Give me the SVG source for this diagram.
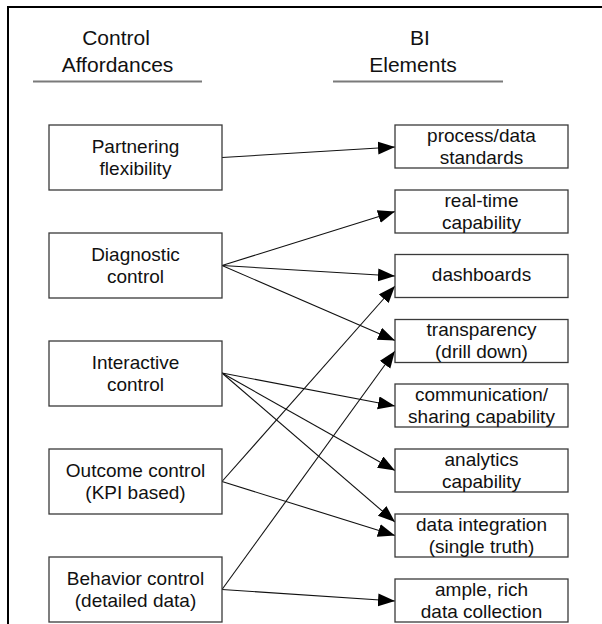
<svg xmlns="http://www.w3.org/2000/svg" width="602" height="624" viewBox="0 0 602 624">
<defs>
<marker id="ah" markerUnits="userSpaceOnUse" markerWidth="18" markerHeight="14" refX="17" refY="6.5" orient="auto">
<path d="M0,0 L17,6.5 L0,13 z" fill="#000"/>
</marker>
<style>
.box{fill:#fff;stroke:#3a3a3a;stroke-width:1.3}
.t{font-family:"Liberation Sans",Arial,sans-serif;font-size:19px;fill:#111;text-anchor:middle}
.h{font-family:"Liberation Sans",Arial,sans-serif;font-size:21px;fill:#111;text-anchor:middle}
.c{stroke:#111;stroke-width:1.1;fill:none;marker-end:url(#ah)}
.ul{stroke:#7a7a7a;stroke-width:2}
</style>
</defs>
<rect width="602" height="624" fill="#fff"/>
<rect x="8" y="7" width="620" height="640" fill="none" stroke="#000" stroke-width="2"/>
<g id="header-left">
<text class="h" x="116" y="45">Control</text>
<text class="h" x="117.5" y="71.5">Affordances</text>
<line class="ul" x1="33" y1="81.5" x2="202" y2="81.5"/>
</g>
<g id="header-right">
<text class="h" x="420" y="45">BI</text>
<text class="h" x="413" y="71.5">Elements</text>
<line class="ul" x1="333" y1="81.5" x2="503" y2="81.5"/>
</g>
<g id="connectors">
<line class="c" x1="222" y1="157.5" x2="395" y2="147"/>
<line class="c" x1="222" y1="265.5" x2="395" y2="211.5"/>
<line class="c" x1="222" y1="265.5" x2="395" y2="276"/>
<line class="c" x1="222" y1="265.5" x2="395" y2="340.5"/>
<line class="c" x1="222" y1="373" x2="395" y2="406"/>
<line class="c" x1="222" y1="373" x2="395" y2="470.5"/>
<line class="c" x1="222" y1="373" x2="395" y2="522"/>
<line class="c" x1="222" y1="481.5" x2="395" y2="286"/>
<line class="c" x1="222" y1="481.5" x2="395" y2="535.5"/>
<line class="c" x1="222" y1="589.5" x2="395" y2="351"/>
<line class="c" x1="222" y1="589.5" x2="395" y2="601"/>
</g>
<g id="partnering">
<rect class="box" x="49" y="125" width="173" height="65"/>
<text class="t" x="135.5" y="152.5">Partnering</text>
<text class="t" x="135.5" y="174.5">flexibility</text>
</g>
<g id="diagnostic">
<rect class="box" x="49" y="233" width="173" height="65"/>
<text class="t" x="135.5" y="260.5">Diagnostic</text>
<text class="t" x="135.5" y="282.5">control</text>
</g>
<g id="interactive">
<rect class="box" x="49" y="341" width="173" height="65"/>
<text class="t" x="135.5" y="368.5">Interactive</text>
<text class="t" x="135.5" y="390.5">control</text>
</g>
<g id="outcome">
<rect class="box" x="49" y="449" width="173" height="65"/>
<text class="t" x="135.5" y="476.5">Outcome control</text>
<text class="t" x="135.5" y="498.5">(KPI based)</text>
</g>
<g id="behavior">
<rect class="box" x="49" y="557" width="173" height="65"/>
<text class="t" x="135.5" y="584.5">Behavior control</text>
<text class="t" x="135.5" y="606.5">(detailed data)</text>
</g>
<g id="process">
<rect class="box" x="395" y="125" width="173" height="43"/>
<text class="t" x="481.5" y="141.5">process/data</text>
<text class="t" x="481.5" y="163.5">standards</text>
</g>
<g id="realtime">
<rect class="box" x="395" y="190" width="173" height="43"/>
<text class="t" x="481.5" y="206.5">real-time</text>
<text class="t" x="481.5" y="228.5">capability</text>
</g>
<g id="dashboards">
<rect class="box" x="395" y="254.5" width="173" height="43"/>
<text class="t" x="481.5" y="281">dashboards</text>
</g>
<g id="transparency">
<rect class="box" x="395" y="319.5" width="173" height="43"/>
<text class="t" x="481.5" y="336">transparency</text>
<text class="t" x="481.5" y="358">(drill down)</text>
</g>
<g id="communication">
<rect class="box" x="395" y="384" width="173" height="43"/>
<text class="t" x="481.5" y="400.5">communication/</text>
<text class="t" x="481.5" y="422.5">sharing capability</text>
</g>
<g id="analytics">
<rect class="box" x="395" y="449" width="173" height="43"/>
<text class="t" x="481.5" y="465.5">analytics</text>
<text class="t" x="481.5" y="487.5">capability</text>
</g>
<g id="integration">
<rect class="box" x="395" y="514" width="173" height="43"/>
<text class="t" x="481.5" y="530.5">data integration</text>
<text class="t" x="481.5" y="552.5">(single truth)</text>
</g>
<g id="ample">
<rect class="box" x="395" y="579" width="173" height="43"/>
<text class="t" x="481.5" y="595.5">ample, rich</text>
<text class="t" x="481.5" y="617.5">data collection</text>
</g>
</svg>
